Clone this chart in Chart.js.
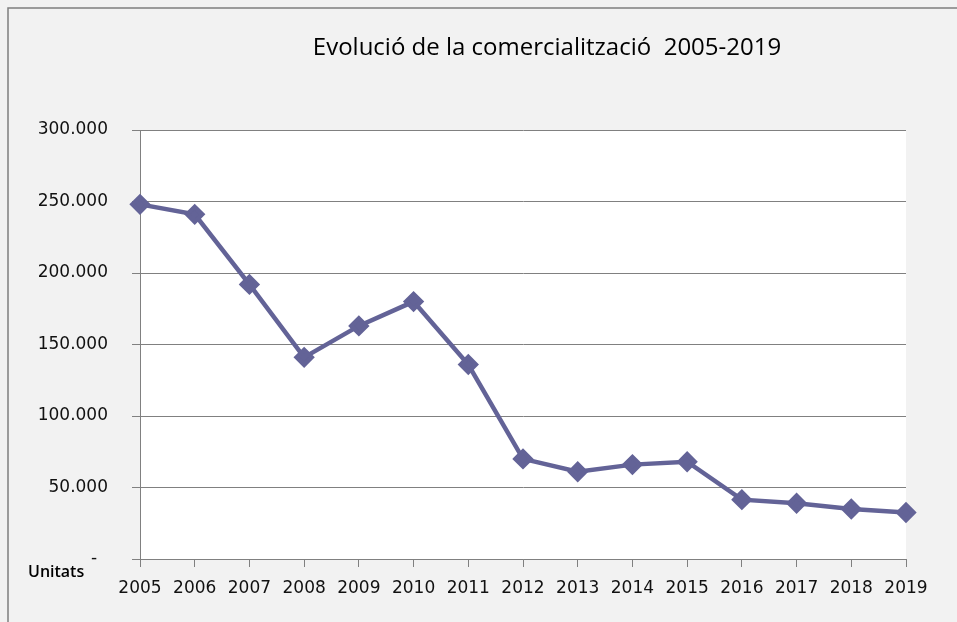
<!DOCTYPE html>
<html>
<head>
<meta charset="utf-8">
<script src="https://cdn.jsdelivr.net/npm/chart.js@4"></script>
<style>
    html, body { margin: 0; padding: 0; background: #f2f2f2; }
    #wrap { width: 957px; height: 622px; position: relative; }
</style>
</head>
<body>
<div id="wrap"><canvas id="salesChart"></canvas></div>
<script>
// Data
const years = ['2005', '2006', '2007', '2008', '2009', '2010', '2011', '2012', '2013', '2014', '2015', '2016', '2017', '2018', '2019'];
const units = [248000, 241000, 192000, 141000, 163000, 180000, 136000, 70000, 61000, 66000, 68000, 41500, 39000, 35000, 32500];
const yTicks = [0, 50000, 100000, 150000, 200000, 250000, 300000];

const titleText = 'Evolució de la comercialització  2005-2019';
const unitLabel = 'Unitats';

// background, frame and the extra texts
const decorations = {
    id: 'decorations',
    beforeDraw(chart) {
        const ctx = chart.ctx;
        const a = chart.chartArea;
        ctx.save();
        ctx.fillStyle = '#f2f2f2';
        ctx.fillRect(0, 0, chart.width, chart.height);
        ctx.fillStyle = '#ffffff';
        ctx.fillRect(a.left, a.top, a.right - a.left, a.bottom - a.top);
        ctx.strokeStyle = '#7f7f7f';
        ctx.lineWidth = 1.5;
        ctx.beginPath();
        ctx.moveTo(8, chart.height + 2);
        ctx.lineTo(8, 8);
        ctx.lineTo(chart.width + 2, 8);
        ctx.stroke();
        ctx.restore();
    },
    afterDraw(chart) {
        const ctx = chart.ctx;
        ctx.save();
        ctx.fillStyle = '#000';
        ctx.textAlign = 'center';
        ctx.textBaseline = 'middle';
        ctx.font = '24px "Open Sans"';
        ctx.fillText(titleText, 547, 48);
        ctx.textAlign = 'left';
        ctx.font = '600 16px "Open Sans"';
        ctx.fillText(unitLabel, 28, 572);
        ctx.restore();
    }
};

document.addEventListener('DOMContentLoaded', function() {
    const ctx = document.querySelector('#salesChart').getContext('2d');
    new Chart(ctx, {
        type: 'line',
        data: {
            labels: years,
            datasets: [{
                label: 'Unitats',
                data: units,
                borderColor: '#636397',
                backgroundColor: '#636397',
                borderWidth: 4.5,
                pointStyle: 'rectRot',
                pointRadius: 7.5,
                pointHoverRadius: 7.5,
                tension: 0,
                fill: false
            }]
        },
        options: {
            responsive: true,
            maintainAspectRatio: false,
            animation: false,
            layout: { padding: { top: 130, right: 51, left: 0, bottom: 0 } },
            plugins: {
                legend: { display: false },
                tooltip: { enabled: false }
            },
            scales: {
                x: {
                    offset: false,
                    grid: {
                        drawOnChartArea: false,
                        drawTicks: true,
                        tickLength: 8,
                        color: '#808080'
                    },
                    border: { color: '#808080', width: 1 },
                    ticks: {
                        color: '#111',
                        padding: 11,
                        maxRotation: 0,
                        autoSkip: false,
                        font: { family: 'DejaVu Sans', size: 17 }
                    },
                    afterFit(scale) { scale.height = 63; }
                },
                y: {
                    min: 0,
                    max: 300000,
                    afterBuildTicks(scale) {
                        scale.ticks = yTicks.map(v => ({ value: v }));
                    },
                    grid: {
                        color: '#808080',
                        tickLength: 8,
                        drawTicks: true
                    },
                    border: { color: '#808080', width: 1 },
                    ticks: {
                        color: '#111',
                        padding: 24,
                        font: { family: 'DejaVu Sans', size: 17 },
                        callback: function(v) {
                            if (v === 0) return '-  ';
                            return v.toLocaleString('de-DE');
                        }
                    },
                    afterFit(scale) { scale.width = 140; }
                }
            }
        },
        plugins: [decorations]
    });
});
</script>
</body>
</html>
